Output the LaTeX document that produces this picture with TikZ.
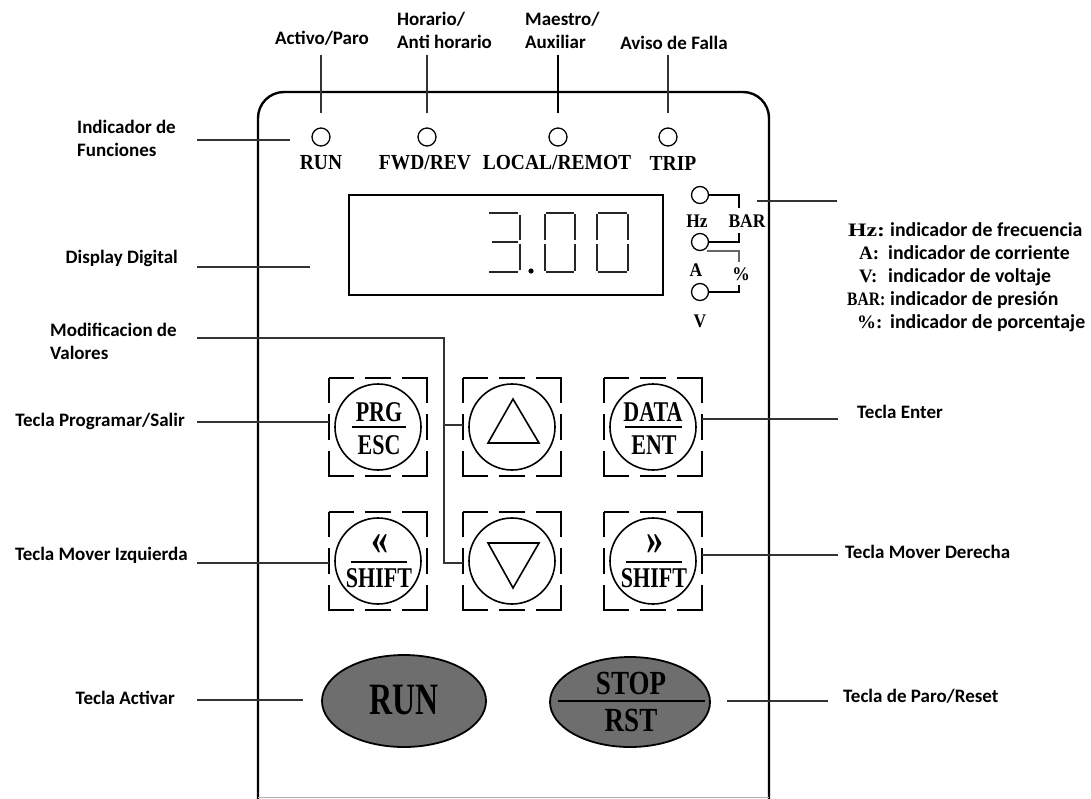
\documentclass[tikz,border=0pt]{standalone}
\usepackage{fontspec}
\usetikzlibrary{shapes.geometric}
\newfontfamily\annot{Carlito}
\newfontfamily\serifk{Liberation Serif}
\newcommand{\vsc}[2]{\scalebox{1}[#1]{#2}}
\newcommand{\hsc}[2]{\scalebox{#1}[1]{#2}}
\definecolor{keygray}{HTML}{6E6E6E}
\tikzset{
 lbl/.style={font=\annot\bfseries\fontsize{19}{23}\selectfont, inner sep=0pt, text=black},
 leg/.style={font=\annot\bfseries\fontsize{19.8}{24}\selectfont, inner sep=0pt, anchor=base west},
 legkey/.style={font=\serifk\bfseries\fontsize{19}{20}\selectfont, inner sep=0pt, anchor=base west},
 ledtxt/.style={font=\serifk\bfseries\fontsize{19.5}{20}\selectfont, inner sep=0pt},
 indtxt/.style={font=\serifk\bfseries\fontsize{17.5}{20}\selectfont, inner sep=0pt},
 keytxt/.style={font=\serifk\bfseries\fontsize{22}{22}\selectfont, inner sep=0pt},
 leader/.style={line width=1.6pt, draw=black!80},
 panel/.style={line width=2.4pt, draw=black},
 led/.style={circle, draw, line width=1.3pt, minimum size=18pt, inner sep=0pt},
 keycirc/.style={circle, draw, line width=1.6pt, minimum size=86pt, inner sep=0pt},
 keybox/.style={draw, line width=2pt, dash pattern=on 50pt off 11pt on 26pt off 11pt, dash phase=25pt},
 seg/.style={line width=2.2pt, draw=black!85},
 bigkey/.style={ellipse, draw, line width=1.8pt, fill=keygray, inner sep=0pt},
}
\begin{document}
\begin{tikzpicture}[x=1pt,y=-1pt]
\useasboundingbox (0,0) rectangle (1091,798);
\fill[white] (0,0) rectangle (1091,798);

% panel
\draw[panel, rounded corners=26pt] (258,800) -- (258,92) -- (769,92) -- (769,800);
\draw[line width=1pt, black!30] (258,797) -- (769,797);

% top LEDs
\node[led] (ledrun) at (321,137) {};
\node[led] (ledfwd) at (427,137) {};
\node[led] (ledloc) at (558,137) {};
\node[led] (ledtrip) at (668,137) {};
\node[ledtxt] (trun) at (321,163) {\vsc{1.1}{RUN}};
\node[ledtxt] (tfwd) at (425,163) {\vsc{1.1}{FWD/REV}};
\node[ledtxt] (tloc) at (557,163) {\vsc{1.1}{LOCAL/REMOT}};
\node[ledtxt] (ttrip) at (673,163) {\vsc{1.1}{TRIP}};

% top labels
\node[lbl] (lact) at (322,38) {Activo/Paro};
\node[lbl, anchor=west, align=left] (lhor) at (397,30) {Horario/\\Anti horario};
\node[lbl, anchor=west, align=left] (lmae) at (525,30) {Maestro/\\Auxiliar};
\node[lbl] (lavi) at (674,43) {Aviso de Falla};
\coordinate (c1) at (321,55); \coordinate (c1e) at (321,113);
\coordinate (c2) at (427,55); \coordinate (c2e) at (427,113);
\coordinate (c3) at (558,55); \coordinate (c3e) at (558,113);
\coordinate (c4) at (668,55); \coordinate (c4e) at (668,113);
\draw[leader] (c1) -- (c1e);
\draw[leader] (c2) -- (c2e);
\draw[leader, line width=2.2pt, draw=black] (c3) -- (c3e);
\draw[leader] (c4) -- (c4e);

% display
\draw[line width=2pt] (349,195) rectangle (663,295);
% digit 3
\draw[seg] (489,213) -- (518,213);
\draw[seg] (520,215) -- (520,240);
\draw[seg] (492,242) -- (518,242);
\draw[seg] (520,244) -- (520,270);
\draw[seg] (489,272) -- (518,272);
\fill (531,271) circle (2.6pt);
\foreach \xa/\xb in {545/575, 597/628}{
  \draw[seg] (\xa+1,213) -- (\xb-1,213);
  \draw[seg] (\xa,214) -- (\xa,240);
  \draw[seg] (\xa,244) -- (\xa,271);
  \draw[seg] (\xb,214) -- (\xb,240);
  \draw[seg] (\xb,244) -- (\xb,271);
  \draw[seg] (\xa+1,272) -- (\xb-1,272);
}

% right indicators
\node[led, minimum size=17pt] (ihz) at (700,195) {};
\node[led, minimum size=17pt] (ia) at (700,242) {};
\node[led, minimum size=17pt] (iv) at (700,292) {};
\node[indtxt] (thz) at (697,221) {\vsc{1.1}{Hz}};
\node[indtxt] (tbar) at (747,221) {\vsc{1.1}{BAR}};
\node[indtxt] (ta) at (696,270) {\vsc{1.1}{A}};
\node[indtxt] (tpc) at (741,274) {\vsc{1.1}{\%}};
\node[indtxt] (tv) at (700,321) {\vsc{1.1}{V}};
\draw[line width=1.4pt] (ihz.east) -- (739,195) -- (739,208);
\draw[line width=1.4pt] (ia.east) -- (739,242) -- (739,233);
\draw[line width=1.4pt, black!60] (707,251) -- (739,251) -- (739,262);
\draw[line width=1.4pt] (iv.east) -- (739,292) -- (739,285);

% legend
\coordinate (lg1) at (757,201); \coordinate (lg2) at (837,201);
\draw[leader] (lg1) -- (lg2);
\node[legkey] (khz) at (848,236) {\hsc{1.25}{Hz:}};
\node[leg] (dhz) at (890,236) {indicador de frecuencia};
\node[legkey] (ka) at (859,259) {A:};
\node[leg] (da) at (888,259) {indicador de corriente};
\node[legkey] (kv) at (859,282) {V:};
\node[leg] (dv) at (888,282) {indicador de voltaje};
\node[legkey] (kbar) at (847,305) {\hsc{0.82}{BAR:}};
\node[leg] (dbar) at (890,305) {indicador de presión};
\node[legkey] (kpc) at (857,328) {\%:};
\node[leg] (dpc) at (890,328) {indicador de porcentaje};

% keys
\draw[keybox] (329,378) rectangle (427,476);
\draw[keybox] (463,378) rectangle (561,476);
\draw[keybox] (604,378) rectangle (702,476);
\draw[keybox] (329,512) rectangle (427,610);
\draw[keybox] (463,512) rectangle (561,610);
\draw[keybox] (604,512) rectangle (702,610);
\node[keycirc] (kprg) at (378,427) {};
\node[keycirc] (kup) at (512,427) {};
\node[keycirc] (kdata) at (653,427) {};
\node[keycirc] (kleft) at (378,561) {};
\node[keycirc] (kdown) at (512,561) {};
\node[keycirc] (kright) at (653,561) {};
\node[keytxt] at (379,412) {\vsc{1.3}{PRG}};
\draw[line width=1.8pt] (352,427) -- (406,427);
\node[keytxt] at (379,445) {\vsc{1.3}{ESC}};
\node[keytxt] at (653,412) {\vsc{1.3}{DATA}};
\draw[line width=1.8pt] (625,427) -- (682,427);
\node[keytxt] at (654,445) {\vsc{1.3}{ENT}};
\node[keytxt, font=\serifk\bfseries\fontsize{34}{34}\selectfont] at (380,545) {\vsc{1.4}{«}};
\draw[line width=1.8pt] (351,562) -- (407,562);
\node[keytxt] at (379,578) {\vsc{1.3}{SHIFT}};
\node[keytxt, font=\serifk\bfseries\fontsize{34}{34}\selectfont] at (655,545) {\vsc{1.4}{»}};
\draw[line width=1.8pt] (626,562) -- (682,562);
\node[keytxt] at (654,578) {\vsc{1.3}{SHIFT}};
\draw[line width=1.6pt, line join=miter] (488,443) -- (539,443) -- (513,399) -- cycle;
\draw[line width=1.6pt, line join=miter] (488,543) -- (539,543) -- (513,588) -- cycle;

% big keys
\node[bigkey, minimum width=164pt, minimum height=92pt] (krun) at (404,701) {};
\node[font=\serifk\bfseries\fontsize{32}{32}\selectfont, inner sep=0pt] at (404,700) {\vsc{1.4}{RUN}};
\node[bigkey, minimum width=160pt, minimum height=90pt] (kstop) at (630,702) {};
\draw[line width=1.6pt] (558,701) -- (705,701);
\node[font=\serifk\bfseries\fontsize{27}{27}\selectfont, inner sep=0pt] at (631,683) {\vsc{1.25}{STOP}};
\node[font=\serifk\bfseries\fontsize{27}{27}\selectfont, inner sep=0pt] at (631,720) {\vsc{1.25}{RST}};

% left labels
\node[lbl, anchor=west, align=left] (lind) at (77,138) {Indicador de\\Funciones};
\node[lbl, anchor=east] (ldis) at (178,258) {Display Digital};
\node[lbl, anchor=west, align=left] (lmod) at (50,341) {Modificacion de\\Valores};
\node[lbl, anchor=east] (lprg) at (185,421) {Tecla Programar/Salir};
\node[lbl, anchor=east] (lizq) at (188,555) {Tecla Mover Izquierda};
\node[lbl, anchor=east] (lact2) at (175,698) {Tecla Activar};
\node[lbl, anchor=west] (lent) at (857,412) {Tecla Enter};
\node[lbl, anchor=west] (lder) at (845,552) {Tecla Mover Derecha};
\node[lbl, anchor=west] (lpar) at (843,696) {Tecla de Paro/Reset};

% left leaders
\coordinate (a1) at (197,140); \coordinate (a1e) at (290,140);
\draw[leader] (a1) -- (a1e);
\coordinate (a2) at (197,267); \coordinate (a2e) at (310,267);
\draw[leader] (a2) -- (a2e);
\coordinate (a3) at (197,338); \coordinate (a3k) at (444,338);
\coordinate (a3u) at (463,425); \coordinate (a3d) at (463,563);
\draw[leader] (a3) -- (a3k) |- (a3d);
\draw[leader] (444,425) -- (a3u);
\coordinate (a4) at (197,422); \coordinate (a4e) at (329,422);
\draw[leader] (a4) -- (a4e);
\coordinate (a5) at (197,563); \coordinate (a5e) at (329,563);
\draw[leader] (a5) -- (a5e);
\coordinate (a6) at (197,700); \coordinate (a6e) at (303,700);
\draw[leader] (a6) -- (a6e);
% right leaders
\coordinate (b1) at (702,419); \coordinate (b1e) at (838,419);
\draw[leader] (b1) -- (b1e);
\coordinate (b2) at (702,555); \coordinate (b2e) at (838,555);
\draw[leader] (b2) -- (b2e);
\coordinate (b3) at (727,701); \coordinate (b3e) at (828,701);
\draw[leader] (b3) -- (b3e);
\end{tikzpicture}
\end{document}
